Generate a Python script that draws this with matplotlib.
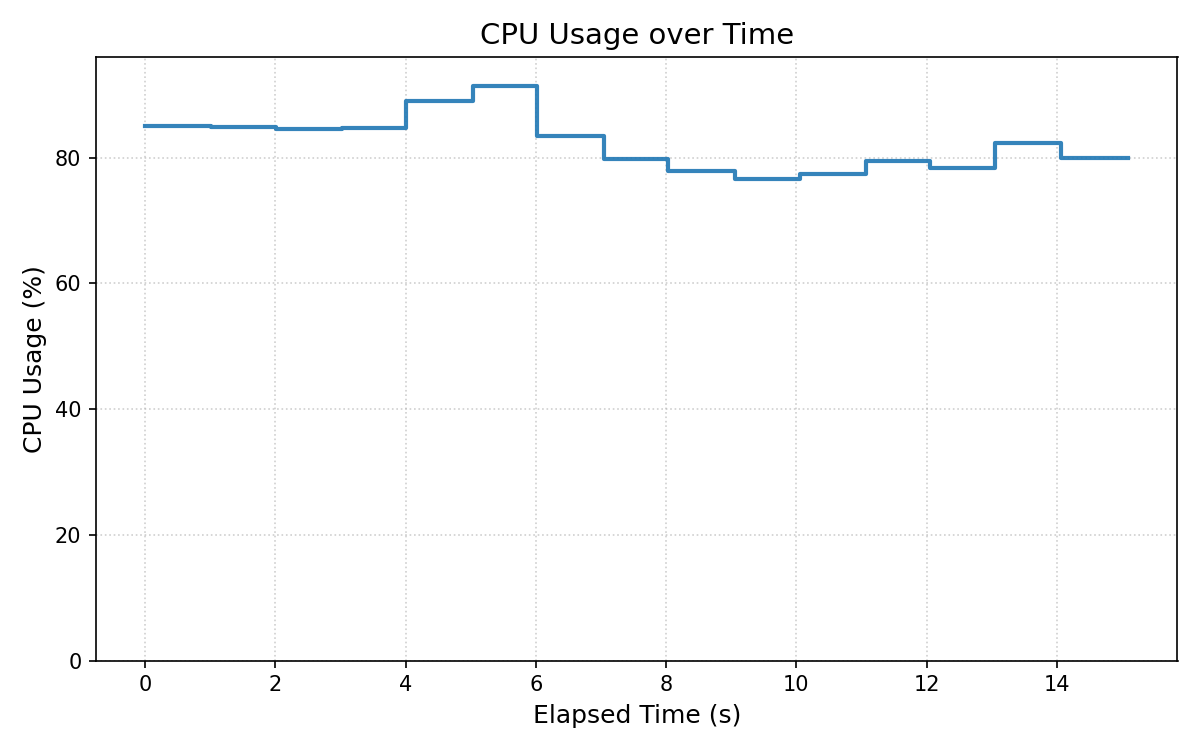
import matplotlib
matplotlib.use("Agg")
import matplotlib.pyplot as plt

elapsed_s = [0.0, 1.01, 2.01, 3.03, 4.01, 5.04, 6.02, 7.04, 8.03, 9.06,
             10.05, 11.07, 12.05, 13.05, 14.06, 15.1]
cpu_pct = [85.0, 84.84, 84.57, 84.68, 89.03, 91.43, 83.4, 79.8, 77.86, 76.59,
           77.45, 79.4, 78.35, 82.35, 79.92, 79.92]

fig, ax = plt.subplots(figsize=(8, 5), dpi=150)
ax.step(elapsed_s, cpu_pct, where="post", color="tab:blue", alpha=0.9, linewidth=2)
ax.set_ylim(0, max(cpu_pct) * 1.05)
ax.set_title("CPU Usage over Time", fontsize=14)
ax.set_xlabel("Elapsed Time (s)", fontsize=12)
ax.set_ylabel("CPU Usage (%)", fontsize=12)
ax.grid(True, linestyle=":", alpha=0.6)
fig.tight_layout()
fig.savefig("out.png")
